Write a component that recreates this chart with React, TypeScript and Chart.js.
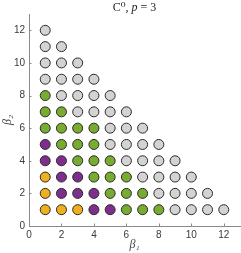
import React, { useEffect, useRef } from "react";
import { Chart, registerables } from "chart.js";

Chart.register(...registerables);

const orangePts: [number, number][] = [
  [1, 1], [2, 1], [3, 1], [1, 2], [1, 3],
];
const purplePts: [number, number][] = [
  [4, 1], [5, 1], [2, 2], [3, 2], [4, 2], [2, 3], [3, 3], [1, 4], [2, 4], [1, 5],
];
const greenPts: [number, number][] = [
  [6, 1], [7, 1], [8, 1], [5, 2], [6, 2], [7, 2], [4, 3], [5, 3], [6, 3],
  [3, 4], [4, 4], [5, 4], [2, 5], [3, 5], [4, 5], [1, 6], [2, 6], [3, 6], [4, 6],
  [1, 7], [2, 7], [1, 8],
];
const grayPts: [number, number][] = [
  [9, 1], [10, 1], [11, 1], [12, 1],
  [8, 2], [9, 2], [10, 2], [11, 2],
  [7, 3], [8, 3], [9, 3], [10, 3],
  [6, 4], [7, 4], [8, 4], [9, 4],
  [5, 5], [6, 5], [7, 5], [8, 5],
  [5, 6], [6, 6], [7, 6],
  [3, 7], [4, 7], [5, 7], [6, 7],
  [2, 8], [3, 8], [4, 8], [5, 8],
  [1, 9], [2, 9], [3, 9], [4, 9],
  [1, 10], [2, 10], [3, 10],
  [1, 11], [2, 11],
  [1, 12],
];
const xTicks = [0, 2, 4, 6, 8, 10, 12];
const yTicks = [0, 2, 4, 6, 8, 10, 12];
const titleParts = [
  { text: "C⁰, ", italic: false },
  { text: "p", italic: true },
  { text: " = 3", italic: false },
];

const AXIS_COLOR = "#8a8a8a";
const SERIF = "'Liberation Serif', 'DejaVu Serif', serif";
const SANS = "'Liberation Sans', Arial, sans-serif";
const ZERO_PAD = () => ({ left: 0, top: 0, right: 0, bottom: 0 });

const tickPlugin = {
  id: "inwardTicks",
  afterDraw(chart: any) {
    const { ctx, chartArea, scales } = chart;
    ctx.save();
    ctx.strokeStyle = AXIS_COLOR;
    ctx.lineWidth = 1;
    ctx.beginPath();
    for (const v of xTicks) {
      const px = Math.round(scales.x.getPixelForValue(v)) + 0.5;
      ctx.moveTo(px, chartArea.bottom);
      ctx.lineTo(px, chartArea.bottom - 2.5);
    }
    for (const v of yTicks) {
      const py = Math.round(scales.y.getPixelForValue(v)) + 0.5;
      ctx.moveTo(chartArea.left, py);
      ctx.lineTo(chartArea.left + 2.5, py);
    }
    ctx.stroke();

    const fonts = titleParts.map((p) => `${p.italic ? "italic " : ""}12px ${SERIF}`);
    let total = 0;
    const widths = titleParts.map((p, i) => {
      ctx.font = fonts[i];
      const w = ctx.measureText(p.text).width;
      total += w;
      return w;
    });
    let x = (chartArea.left + chartArea.right) / 2 - total / 2;
    ctx.fillStyle = "#222";
    ctx.textBaseline = "middle";
    ctx.textAlign = "left";
    titleParts.forEach((p, i) => {
      ctx.font = fonts[i];
      ctx.fillText(p.text, x, 8);
      x += widths[i];
    });
    ctx.restore();
  },
};

function ds(pts: [number, number][], color: string) {
  return {
    data: pts.map(([x, y]) => ({ x, y })),
    backgroundColor: color,
    borderColor: "#2b2b2b",
    borderWidth: 1,
    pointRadius: 5,
    pointHoverRadius: 5,
  };
}

export default function App() {
  const ref = useRef<HTMLCanvasElement>(null);
  useEffect(() => {
    if (!ref.current) return;
    const chart = new Chart(ref.current, {
      type: "scatter",
      data: {
        datasets: [
          ds(orangePts, "#EDB120"),
          ds(purplePts, "#7E2F8E"),
          ds(greenPts, "#77AC30"),
          ds(grayPts, "#D3D3D3"),
        ],
      },
      options: {
        responsive: false,
        animation: false,
        layout: { autoPadding: false, padding: { left: 0, right: 1, top: 14, bottom: 0 } },
        plugins: {
          legend: { display: false },
          tooltip: { enabled: false },
          title: { display: false },
        },
        scales: {
          x: {
            type: "linear",
            min: 0,
            max: 13,
            afterBuildTicks: (s: any) => {
              s.ticks = xTicks.map((v) => ({ value: v }));
            },
            afterFit: (s: any) => {
              s.height = 27;
              s.paddingLeft = 0;
              s.paddingRight = 0;
              s.getPadding = ZERO_PAD;
            },
            grid: { display: true, drawOnChartArea: false, drawTicks: false },
            border: { display: true, color: AXIS_COLOR, width: 1 },
            ticks: {
              color: "#3a3a3a",
              padding: 3,
              maxRotation: 0,
              font: { family: SANS, size: 10 },
            },
            title: {
              display: true,
              text: "β₁",
              color: "#444",
              font: { family: SERIF, size: 12, style: "italic" },
              padding: { top: 0, bottom: 1 },
            },
          },
          y: {
            type: "linear",
            min: 0,
            max: 13,
            afterBuildTicks: (s: any) => {
              s.ticks = yTicks.map((v) => ({ value: v }));
            },
            afterFit: (s: any) => {
              s.width = 29;
              s.paddingTop = 0;
              s.paddingBottom = 0;
              s.getPadding = ZERO_PAD;
            },
            grid: { display: true, drawOnChartArea: false, drawTicks: false },
            border: { display: true, color: AXIS_COLOR, width: 1 },
            ticks: {
              color: "#3a3a3a",
              padding: 4,
              font: { family: SANS, size: 10 },
            },
            title: {
              display: true,
              text: "β₂",
              color: "#444",
              font: { family: SERIF, size: 12, style: "italic" },
              padding: { top: 1, bottom: 0 },
            },
          },
        },
      },
      plugins: [tickPlugin],
    });
    return () => chart.destroy();
  }, []);
  return (
    <div style={{ position: "absolute", left: 0, top: 0, width: 241, height: 253, background: "#fff" }}>
      <canvas ref={ref} width={241} height={253} style={{ display: "block" }} />
    </div>
  );
}
